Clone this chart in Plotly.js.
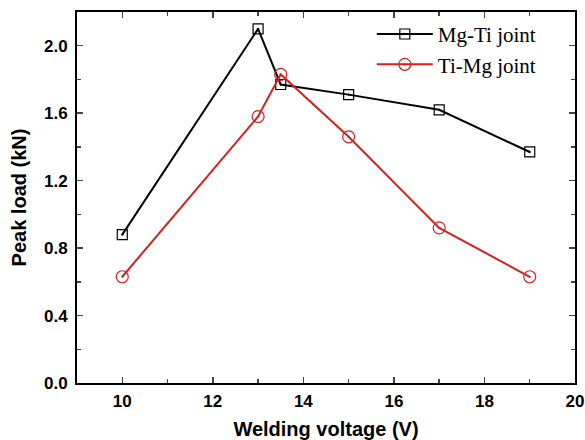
<!DOCTYPE html>
<html><head><meta charset="utf-8">
<script src="https://cdn.plot.ly/plotly-3.0.1.min.js"></script>
<style>html,body{margin:0;padding:0;background:#fff}#chart{width:585px;height:440px}</style>
</head><body><div id="chart"></div>
<script>
const voltage = [10, 13, 13.5, 15, 17, 19];
const mgTiLoad = [0.88, 2.10, 1.77, 1.71, 1.62, 1.37];
const tiMgLoad = [0.63, 1.58, 1.83, 1.46, 0.92, 0.63];
const seriesNames = ['Mg-Ti joint', 'Ti-Mg joint'];

const traces = [
  {x: voltage, y: mgTiLoad, name: seriesNames[0], type: 'scatter', mode: 'lines+markers',
   line: {color: '#000000', width: 2},
   marker: {symbol: 'square-open-dot', size: 10, color: '#000000', line: {width: 1.2}}},
  {x: voltage, y: tiMgLoad, name: seriesNames[1], type: 'scatter', mode: 'lines+markers',
   line: {color: '#d42020', width: 2},
   marker: {symbol: 'circle-open-dot', size: 12, color: '#d42020', line: {width: 1.2}}}
];

const tickFont = {family: 'Liberation Sans, Arial, sans-serif', size: 17, color: '#000', weight: 'bold'};
const titleFont = {family: 'Liberation Sans, Arial, sans-serif', size: 20, color: '#000', weight: 'bold'};
const layout = {
  width: 585, height: 440,
  margin: {l: 77, r: 10, t: 12, b: 57},
  paper_bgcolor: '#fff', plot_bgcolor: '#fff',
  showlegend: true,
  legend: {x: 0.592, y: 0.995, xanchor: 'left', yanchor: 'top', bgcolor: 'rgba(0,0,0,0)',
    font: {family: 'Liberation Serif, Times New Roman, serif', size: 21, color: '#000'},
    itemwidth: 56, tracegroupgap: 0},
  xaxis: {range: [9, 20], dtick: 2, tick0: 10, ticks: 'inside', ticklen: 6, tickwidth: 1.5,
    minor: {dtick: 1, ticks: 'inside', ticklen: 4, tickwidth: 1.5},
    showline: true, linewidth: 2, linecolor: '#000', mirror: 'ticks', showgrid: false, zeroline: false,
    tickfont: tickFont, ticklabelstandoff: 2,
    title: {text: 'Welding voltage (V)', font: titleFont, standoff: 16}},
  yaxis: {range: [0, 2.2], dtick: 0.4, tick0: 0, tickformat: '.1f', ticks: 'inside', ticklen: 6, tickwidth: 1.5,
    minor: {dtick: 0.2, ticks: 'inside', ticklen: 4, tickwidth: 1.5},
    showline: true, linewidth: 2, linecolor: '#000', mirror: 'ticks', showgrid: false, zeroline: false,
    tickfont: tickFont, ticklabelstandoff: 4,
    title: {text: 'Peak load (kN)', font: titleFont, standoff: 12}}
};
Plotly.newPlot('chart', traces, layout, {displayModeBar: false, staticPlot: true});
</script></body></html>
